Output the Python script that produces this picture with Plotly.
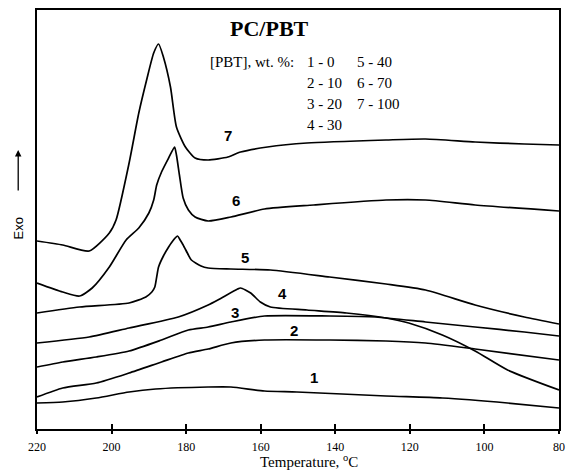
import plotly.graph_objects as go

# Temperature (°C) and exo signal (arbitrary units)
t1 = [220, 213.1, 204.1, 195.3, 188.2, 174.1, 168.0, 159.0, 150.3, 126.4, 111.3, 93.8, 80]
y1 = [26, 27, 31, 37, 40, 42, 42, 38, 37, 33, 31, 26, 21]

t2 = [220, 213.1, 204.1, 195.3, 186.6, 179.4, 174.1, 168.0, 159.0, 141.5, 126.4, 115.8, 102.5, 80]
y2 = [32, 41, 46, 56, 67, 76, 80, 86, 89, 89, 88, 86, 80, 69]

t3 = [220, 213.1, 204.1, 195.3, 186.6, 179.4, 174.1, 168.0, 159.0, 141.5, 129.1, 115.8, 102.5, 89.3, 80]
y3 = [62, 67, 72, 78, 89, 99, 102, 107, 113, 113, 112, 107, 102, 97, 93]

t4 = [220, 206.0, 195.3, 182.1, 174.1, 171.5, 166.2, 165.4, 162.7, 160.1, 157.4, 147.6, 137.0, 126.4, 120.3, 111.3, 102.5, 93.8, 80]
y4 = [86, 92, 101, 112, 124, 129, 140, 141, 136, 127, 122, 119, 116, 111, 106, 94, 78, 59, 39]

t5 = [220, 208.6, 195.3, 190.8, 189.2, 188.4, 187.9, 187.4, 186.1, 184.7, 183.4, 182.3, 181.6, 180.8, 179.4, 178.6, 176.0, 174.1, 168.0, 157.4, 141.5, 126.4, 115.8, 102.5, 89.3, 80]
y5 = [116, 122, 126, 132, 137, 142, 152, 162, 173, 182, 189, 193, 189, 184, 174, 169, 163, 161, 160, 159, 152, 145, 139, 124, 112, 105]

t6 = [220, 213.1, 208.6, 205.2, 200.6, 196.1, 192.7, 190.0, 188.7, 187.9, 186.6, 184.7, 183.1, 182.6, 181.8, 180.8, 179.4, 177.6, 174.1, 168.0, 159.0, 145.8, 126.4, 115.8, 102.5, 80]
y6 = [146, 137, 133, 141, 162, 189, 201, 216, 229, 244, 257, 271, 282, 274, 254, 231, 219, 212, 208, 212, 220, 224, 229, 229, 224, 218]

t7 = [220, 213.1, 206.0, 200.6, 198.8, 195.3, 192.7, 190.6, 188.7, 187.4, 186.1, 184.2, 182.6, 180.2, 177.6, 174.1, 168.8, 165.4, 158.2, 147.6, 126.4, 115.8, 102.5, 89.3, 80]
y7 = [188, 184, 178, 196, 209, 266, 316, 349, 376, 385, 372, 342, 302, 282, 271, 269, 272, 277, 282, 286, 289, 290, 287, 285, 284]

curves = [(t1, y1), (t2, y2), (t3, y3), (t4, y4), (t5, y5), (t6, y6), (t7, y7)]

curve_labels = ["1", "2", "3", "4", "5", "6", "7"]
label_t = [145.8, 151.1, 167.0, 154.2, 164.1, 166.7, 168.8]
label_y = [52, 99, 117, 136, 172, 229, 294]

title_text = "PC/PBT"
legend_head = "[PBT], wt. %:"
legend_col1 = ["1 - 0", "2 - 10", "3 - 20", "4 - 30"]
legend_col2 = ["5 - 40", "6 - 70", "7 - 100"]
tick_vals = [220, 200, 180, 160, 140, 120, 100, 80]

fig = go.Figure()
for t, y in curves:
    fig.add_trace(go.Scatter(x=t, y=y, mode="lines",
                             line=dict(color="black", width=1.7, shape="spline", smoothing=0.6),
                             showlegend=False, hoverinfo="skip"))
# empty trace to activate the overlay axis carrying inner tick marks
fig.add_trace(go.Scatter(x=[], y=[], xaxis="x2", showlegend=False))

serif = "Liberation Serif, Times New Roman, serif"
sans = "Liberation Sans, Arial, sans-serif"

fig.update_layout(
    width=572, height=470,
    margin=dict(l=37, r=7, t=10, b=41),
    paper_bgcolor="white", plot_bgcolor="white",
    xaxis=dict(range=[220, 80], tickvals=tick_vals, ticks="outside", ticklen=3,
               tickwidth=1.5, tickcolor="black", showline=True, linecolor="black",
               linewidth=1.5, mirror=True, showgrid=False, zeroline=False,
               ticklabelstandoff=3,
               tickfont=dict(family=serif, size=12, color="black")),
    xaxis2=dict(range=[220, 80], matches="x", overlaying="x", tickvals=tick_vals,
                ticks="inside", ticklen=5, tickwidth=1.5, tickcolor="black",
                showticklabels=False, showgrid=False, zeroline=False, anchor="y"),
    yaxis=dict(range=[0, 419], showticklabels=False, ticks="", showline=True,
               linecolor="black", linewidth=1.5, mirror=True, showgrid=False,
               zeroline=False),
)

anns = []
for lab, lt, ly in zip(curve_labels, label_t, label_y):
    anns.append(dict(x=lt, y=ly, xref="x", yref="y", text="<b>%s</b>" % lab,
                     xanchor="center", yanchor="middle",
                     showarrow=False, font=dict(family=sans, size=15, color="black")))

anns.append(dict(x=0.445, y=0.955, xref="paper", yref="paper", text="<b>%s</b>" % title_text,
                 xanchor="center", yanchor="middle",
                 showarrow=False, font=dict(family=serif, size=22, color="black")))
row_y = [0.876, 0.826, 0.776, 0.726]
anns.append(dict(x=0.3277, y=row_y[0], xref="paper", yref="paper", text=legend_head,
                 xanchor="left", yanchor="middle", showarrow=False,
                 font=dict(family=serif, size=15, color="black")))
for i, s in enumerate(legend_col1):
    anns.append(dict(x=0.513, y=row_y[i], xref="paper", yref="paper", text=s,
                     xanchor="left", yanchor="middle", showarrow=False,
                     font=dict(family=serif, size=15, color="black")))
for i, s in enumerate(legend_col2):
    anns.append(dict(x=0.610, y=row_y[i], xref="paper", yref="paper", text=s,
                     xanchor="left", yanchor="middle", showarrow=False,
                     font=dict(family=serif, size=15, color="black")))

# axis titles
anns.append(dict(x=0.521, y=-0.077, xref="paper", yref="paper",
                 text="Temperature, <sup>o</sup>C", showarrow=False,
                 xanchor="center", yanchor="middle",
                 font=dict(family=serif, size=15, color="black")))
anns.append(dict(x=-0.036, y=0.479, xref="paper", yref="paper", text="Exo",
                 textangle=-90, showarrow=False, xanchor="center", yanchor="middle",
                 font=dict(family=sans, size=13, color="black")))
anns.append(dict(x=-0.036, y=0.666, xref="paper", yref="paper", text="",
                 showarrow=True, ax=0, ay=42, arrowhead=2, arrowsize=1, arrowwidth=1.3,
                 arrowcolor="black"))

fig.update_layout(annotations=anns)
fig.write_html("out.html")
